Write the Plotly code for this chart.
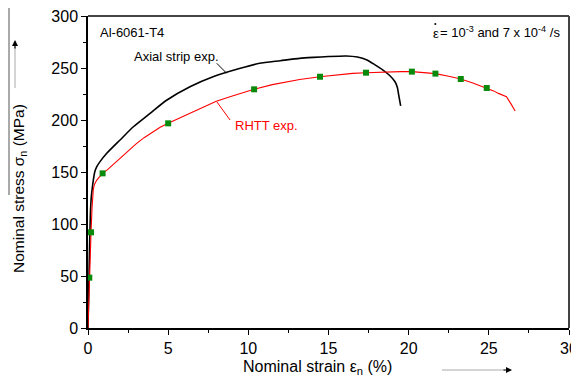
import plotly.graph_objects as go

# Axial strip experiment (black)
axial_strain = [0, 0.05, 0.1, 0.15, 0.2, 0.27, 0.33, 0.42, 0.54, 0.75, 1.17, 2.0, 2.83, 3.87, 4.9,
                6.36, 7.8, 9.5, 10.7, 12.0, 13.2, 14.06, 15.0, 16.1, 16.8, 17.4, 17.9, 18.4, 18.8,
                19.15, 19.3, 19.36, 19.45, 19.5]
axial_stress = [0, 40, 80, 110, 125, 135, 142, 150, 155, 160, 168, 180.8, 193.5, 206.4, 219,
                232, 241.6, 249.7, 254.5, 257, 259.3, 260.2, 261, 261.5, 260.5, 257.7, 253, 248, 243,
                236.8, 231, 225.6, 218, 213.5]

# RHTT experiment (red)
rhtt_strain = [0, 0.05, 0.08, 0.12, 0.19, 0.25, 0.3, 0.33, 0.4, 0.54, 0.7, 0.91, 1.2, 1.5, 2.0, 2.5,
               3.0, 3.5, 4.0, 4.5, 5.0, 6.0, 7.0, 8.0, 9.0, 10.36, 11.5, 12.5, 13.2, 14.47, 15.5,
               16.5, 17.34, 18.5, 19.5, 20.2, 21.0, 21.67, 22.5, 23.25, 24.0, 24.87, 25.3, 25.6,
               26.1, 26.4, 26.64]
rhtt_stress = [0, 30, 48.4, 70, 92, 115, 128, 133, 138, 142, 145, 148.7, 152, 156, 163, 170,
               177, 183, 188, 193, 196.8, 204, 211, 218, 223, 229.5, 234, 237, 239, 241.6, 243.5,
               244.8, 245.5, 246.2, 246.5, 246.5, 245.8, 244.6, 242, 239.4, 235.5, 230.8, 228, 225.6,
               222.4, 215, 208.6]

# Green markers on RHTT
mark_strain = [0.08, 0.19, 0.91, 5.0, 10.36, 14.47, 17.34, 20.2, 21.67, 23.25, 24.87]
mark_stress = [48.4, 92, 148.7, 196.8, 229.5, 241.6, 245.5, 246.5, 244.6, 239.4, 230.8]

x_ticks = [0, 5, 10, 15, 20, 25, 30]
y_ticks = [0, 50, 100, 150, 200, 250, 300]

FONT = "Liberation Sans, Arial, sans-serif"

# page has an 8px body margin: figure is shrunk so the plot lands where the reference has it
OFF = 8
L, T, R, B = 88 - OFF, 16 - OFF, 10, 54
W, H = 579 - OFF, 382 - OFF
PW, PH = W - L - R, H - T - B


def px(x):  # page pixel -> paper x
    return (x - OFF - L) / PW


def py(y):  # page pixel -> paper y
    return (H - B - (y - OFF)) / PH


fig = go.Figure()
fig.add_trace(go.Scatter(x=axial_strain, y=axial_stress, mode="lines",
                         line=dict(color="black", width=1.6, shape="spline", smoothing=0.6),
                         showlegend=False))
fig.add_trace(go.Scatter(x=rhtt_strain, y=rhtt_stress, mode="lines",
                         line=dict(color="#ff0000", width=1.1), showlegend=False))
fig.add_trace(go.Scatter(x=mark_strain, y=mark_stress, mode="markers",
                         marker=dict(symbol="square", color="#0a8a0a", size=6), showlegend=False))

fig.update_layout(
    width=W, height=H,
    margin=dict(l=L, r=R, t=T, b=B, autoexpand=False),
    paper_bgcolor="white", plot_bgcolor="white",
    font=dict(family=FONT, color="black"),
    xaxis=dict(range=[0, 30], tickvals=x_ticks, ticktext=[str(v) for v in x_ticks],
               automargin=False, ticklabeloverflow="allow",
               showgrid=False, zeroline=False, showline=True, linecolor="black", linewidth=1.5,
               ticks="outside", ticklen=5, tickwidth=1.2, tickcolor="black",
               tickfont=dict(size=16, family=FONT),
               minor=dict(dtick=2.5, ticks="outside", ticklen=3, tickcolor="black", showgrid=False)),
    yaxis=dict(range=[0, 300], tickvals=y_ticks, ticktext=[str(v) for v in y_ticks],
               automargin=False, ticklabeloverflow="allow",
               showgrid=False, zeroline=False, showline=True, linecolor="black", linewidth=1.5,
               ticks="outside", ticklen=5, tickwidth=1.2, tickcolor="black",
               tickfont=dict(size=16, family=FONT),
               minor=dict(dtick=25, ticks="outside", ticklen=3, tickcolor="black", showgrid=False)),
)

# top and right frame
fig.add_shape(type="line", xref="paper", yref="paper", x0=0, x1=1, y0=1, y1=1,
              line=dict(color="#444", width=2))
fig.add_shape(type="line", xref="paper", yref="paper", x0=1, x1=1, y0=0, y1=1,
              line=dict(color="#444", width=2))

# leader lines
fig.add_shape(type="line", x0=8.03, y0=254.5, x1=8.65, y1=244.9, line=dict(color="black", width=1))
fig.add_shape(type="line", x0=8.03, y0=217.6, x1=8.86, y1=200, line=dict(color="#ff0000", width=1))

# left edge line
fig.add_shape(type="line", xref="paper", yref="paper", x0=px(9), x1=px(9), y0=py(195), y1=py(8),
              line=dict(color="#555", width=1))

# axis titles
fig.add_annotation(text="Nominal strain ε<sub>n</sub> (%)", xref="paper", yref="paper",
                   x=px(317), y=py(367), showarrow=False,
                   font=dict(size=16, family=FONT), xanchor="center", yanchor="middle")
fig.add_annotation(text="Nominal stress σ<sub>n</sub> (MPa)", xref="paper", yref="paper",
                   x=px(19), y=py(189), showarrow=False, textangle=-90,
                   font=dict(size=15.5, family=FONT), xanchor="center", yanchor="middle")

# direction arrows
fig.add_shape(type="line", xref="paper", yref="paper",
              x0=px(442), x1=px(505), y0=py(370), y1=py(370),
              line=dict(color="#aaa", width=1))
fig.add_annotation(xref="paper", yref="paper", x=px(512), y=py(370),
                   ax=-10, ay=0, showarrow=True, arrowhead=2, arrowsize=1, arrowwidth=1.2,
                   arrowcolor="black", text="")
fig.add_shape(type="line", xref="paper", yref="paper",
              x0=px(15), x1=px(15), y0=py(88), y1=py(47),
              line=dict(color="#aaa", width=1))
fig.add_annotation(xref="paper", yref="paper", x=px(15), y=py(40),
                   ax=0, ay=10, showarrow=True, arrowhead=2, arrowsize=1, arrowwidth=1.2,
                   arrowcolor="black", text="")

# text labels
fig.add_annotation(text="Al-6061-T4", xref="paper", yref="paper", x=px(98), y=py(32),
                   xanchor="left", yanchor="middle",
                   showarrow=False, font=dict(size=13, family=FONT))
fig.add_annotation(text="Axial strip exp.", xref="paper", yref="paper", x=px(132), y=py(56),
                   xanchor="left", yanchor="middle",
                   showarrow=False, font=dict(size=13, family=FONT))
fig.add_annotation(text="RHTT exp.", xref="paper", yref="paper", x=px(233), y=py(126),
                   xanchor="left", yanchor="middle",
                   showarrow=False, font=dict(size=13, family=FONT, color="#ff0000"))
fig.add_annotation(text="ε", xref="paper", yref="paper", x=px(431), y=py(33),
                   xanchor="left", yanchor="middle",
                   showarrow=False, font=dict(size=13, family=FONT))
# dot over epsilon
fig.add_shape(type="circle", xref="paper", yref="paper",
              x0=px(434.3), x1=px(436.3), y0=py(25), y1=py(23),
              line=dict(width=0), fillcolor="black")
fig.add_annotation(text="= 10<sup>-3</sup> and 7 x 10<sup>-4</sup> /s", xref="paper", yref="paper",
                   x=px(562), y=py(32), xanchor="right", yanchor="middle",
                   showarrow=False, font=dict(size=13, family=FONT))

fig.write_html("out.html")
